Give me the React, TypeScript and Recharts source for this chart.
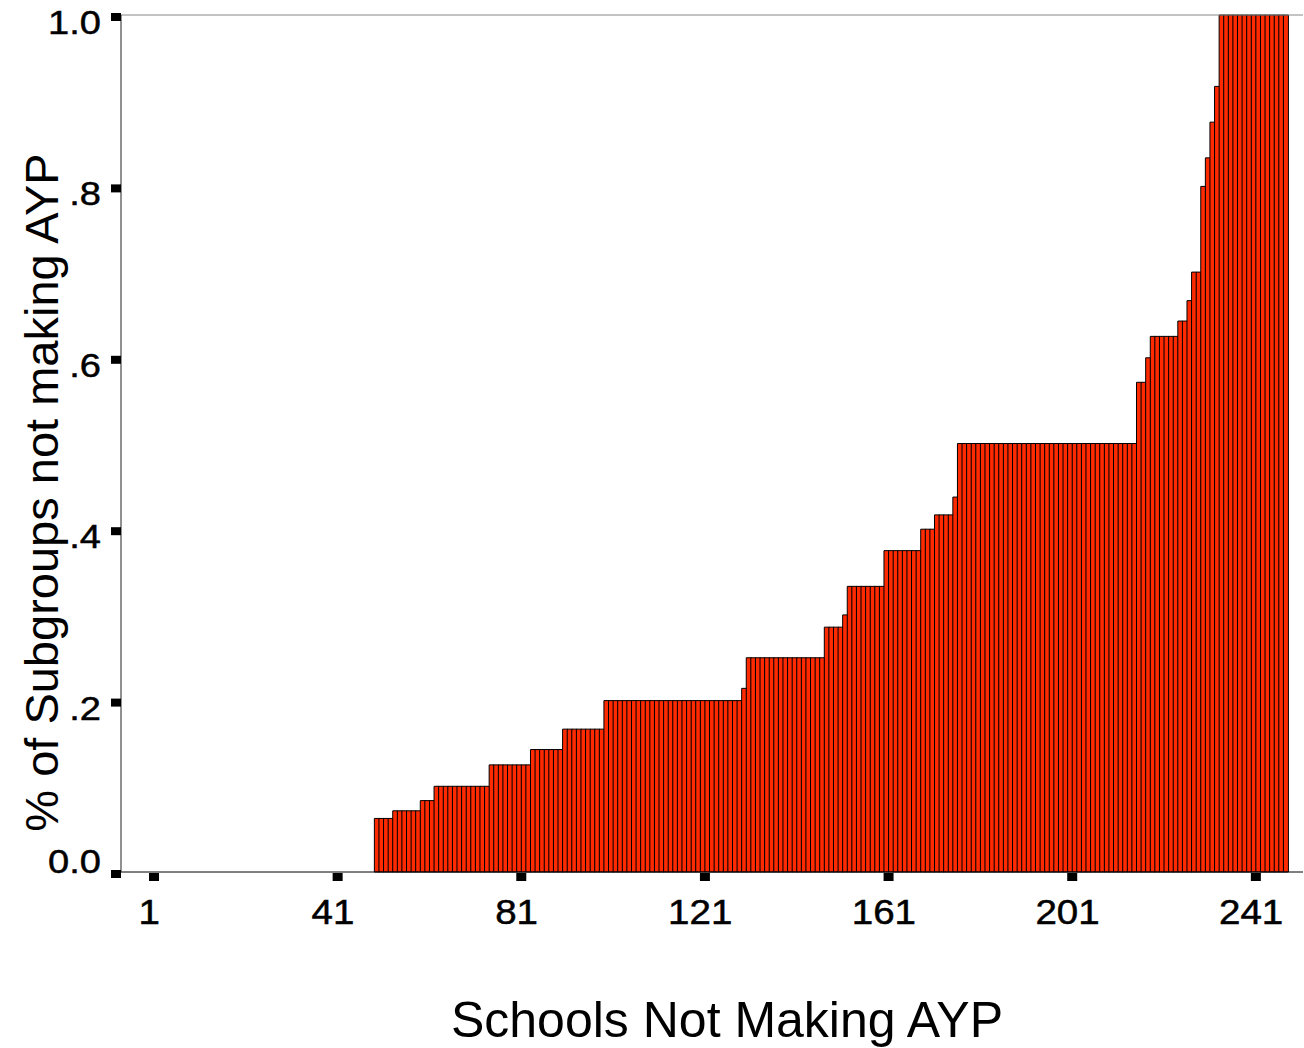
import React from 'react';
import { BarChart, Bar, XAxis, YAxis, ReferenceLine, Label } from 'recharts';

// share of subgroups not making AYP, one value per school (sorted)
const pctNotMaking: number[] = [
  0, 0, 0, 0, 0, 0, 0, 0, 0, 0,
  0, 0, 0, 0, 0, 0, 0, 0, 0, 0,
  0, 0, 0, 0, 0, 0, 0, 0, 0, 0,
  0, 0, 0, 0, 0, 0, 0, 0, 0, 0,
  0, 0, 0, 0, 0, 0, 0, 0,
  0.0625, 0.0625, 0.0625, 0.0625,
  0.0714, 0.0714, 0.0714, 0.0714, 0.0714, 0.0714,
  0.0833, 0.0833, 0.0833,
  0.1, 0.1, 0.1, 0.1, 0.1, 0.1, 0.1, 0.1, 0.1, 0.1, 0.1, 0.1,
  0.125, 0.125, 0.125, 0.125, 0.125, 0.125, 0.125, 0.125, 0.125,
  0.1429, 0.1429, 0.1429, 0.1429, 0.1429, 0.1429, 0.1429,
  0.1667, 0.1667, 0.1667, 0.1667, 0.1667, 0.1667, 0.1667, 0.1667, 0.1667,
  0.2, 0.2, 0.2, 0.2, 0.2, 0.2, 0.2, 0.2, 0.2, 0.2,
  0.2, 0.2, 0.2, 0.2, 0.2, 0.2, 0.2, 0.2, 0.2, 0.2,
  0.2, 0.2, 0.2, 0.2, 0.2, 0.2, 0.2, 0.2, 0.2, 0.2,
  0.2143,
  0.25, 0.25, 0.25, 0.25, 0.25, 0.25, 0.25, 0.25, 0.25,
  0.25, 0.25, 0.25, 0.25, 0.25, 0.25, 0.25, 0.25,
  0.2857, 0.2857, 0.2857, 0.2857,
  0.3,
  0.3333, 0.3333, 0.3333, 0.3333, 0.3333, 0.3333, 0.3333, 0.3333,
  0.375, 0.375, 0.375, 0.375, 0.375, 0.375, 0.375, 0.375,
  0.4, 0.4, 0.4,
  0.4167, 0.4167, 0.4167, 0.4167,
  0.4375,
  0.5, 0.5, 0.5, 0.5, 0.5, 0.5, 0.5, 0.5, 0.5, 0.5,
  0.5, 0.5, 0.5, 0.5, 0.5, 0.5, 0.5, 0.5, 0.5, 0.5,
  0.5, 0.5, 0.5, 0.5, 0.5, 0.5, 0.5, 0.5, 0.5, 0.5,
  0.5, 0.5, 0.5, 0.5, 0.5, 0.5, 0.5, 0.5, 0.5,
  0.5714, 0.5714,
  0.6,
  0.625, 0.625, 0.625, 0.625, 0.625, 0.625,
  0.6429, 0.6429,
  0.6667,
  0.7, 0.7,
  0.8,
  0.8333,
  0.875,
  0.9167,
  1, 1, 1, 1, 1, 1, 1, 1, 1, 1, 1, 1, 1, 1, 1,
];

const schools = pctNotMaking.map((_, i) => String(i + 1));
const yTicks = [0, 0.2, 0.4, 0.6, 0.8, 1.0];
const yTickLabels = ['0.0', '.2', '.4', '.6', '.8', '1.0'];

const chartData = schools.map((s, i) => ({ school: s, pct: pctNotMaking[i] }));

const FONT = '"Liberation Sans", Arial, Helvetica, sans-serif';
const HALF_BAND = 2.3;

const XTick = (props: any) => {
  const { x, y, payload } = props;
  return (
    <g>
      <rect x={x - HALF_BAND - 5} y={y + 1} width={10} height={8} fill="#000" />
      <text
        transform={`translate(${x - 7},${y + 52}) scale(1.1,1)`}
        textAnchor="middle"
        fontFamily={FONT}
        fontSize={35}
        fill="#000"
        stroke="#000"
        strokeWidth={0.5}
      >
        {payload.value}
      </text>
    </g>
  );
};

const YTick = (props: any) => {
  const { x, y, payload } = props;
  const idx = yTicks.indexOf(payload.value);
  const label = idx >= 0 ? yTickLabels[idx] : String(payload.value);
  const dy = payload.value === 0 ? 1 : 19;
  return (
    <g>
      <rect x={x - 10} y={y - 2} width={10} height={8} fill="#000" />
      <text
        transform={`translate(${x - 20},${y + dy}) scale(1.12,1)`}
        textAnchor="end"
        fontFamily={FONT}
        fontSize={34}
        fill="#000"
        stroke="#000"
        strokeWidth={0.5}
      >
        {label}
      </text>
    </g>
  );
};

const XTitle = (props: any) => {
  const { viewBox } = props;
  return (
    <text
      x={viewBox.x + viewBox.width / 2 + 15}
      y={viewBox.y + 165}
      textAnchor="middle"
      fontFamily={FONT}
      fontSize={50}
      fill="#000"
    >
      Schools Not Making AYP
    </text>
  );
};

const YTitle = (props: any) => {
  const { viewBox } = props;
  const cx = viewBox.x + 58;
  const cy = viewBox.y + viewBox.height / 2 + 49;
  return (
    <text
      transform={`translate(${cx},${cy}) rotate(-90)`}
      textAnchor="middle"
      fontFamily={FONT}
      fontSize={47}
      fill="#000"
    >
      % of Subgroups not making AYP
    </text>
  );
};

export default function App() {
  return (
    <div style={{ position: 'absolute', left: 0, top: 0, background: '#fff' }}>
      <BarChart
        width={1304}
        height={1048}
        data={chartData}
        margin={{ top: 15, right: 1, left: 0, bottom: 0 }}
        barCategoryGap={0}
        barGap={0}
      >
        <XAxis
          dataKey="school"
          type="category"
          interval={39}
          height={176}
          padding={{ left: 33, right: 15 }}
          axisLine={{ stroke: '#000', strokeWidth: 1 }}
          tickLine={false}
          tickSize={0}
          tickMargin={0}
          tick={<XTick />}
          label={<Label content={<XTitle />} />}
        />
        <YAxis
          type="number"
          domain={[0, 1]}
          ticks={yTicks}
          width={121}
          axisLine={{ stroke: '#222', strokeWidth: 1 }}
          tickLine={false}
          tickSize={0}
          tickMargin={0}
          tick={<YTick />}
          label={<Label content={<YTitle />} />}
        />
        <ReferenceLine y={1} stroke="#888" strokeWidth={1} />
        <Bar
          dataKey="pct"
          fill="#ff2a00"
          stroke="#000"
          strokeWidth={1}
          isAnimationActive={false}
        />
      </BarChart>
    </div>
  );
}
